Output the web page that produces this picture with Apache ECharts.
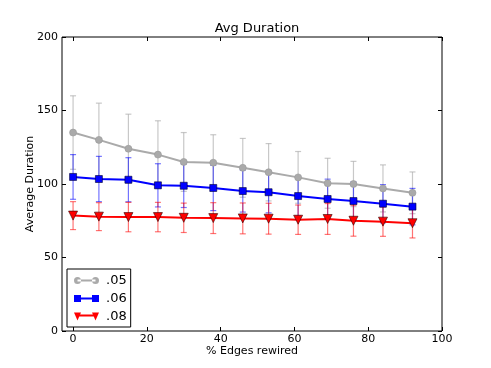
<!DOCTYPE html>
<html>
<head>
<meta charset="utf-8">
<script src="https://cdn.jsdelivr.net/npm/echarts@6/dist/echarts.min.js"></script>
<style>
  html, body { margin: 0; padding: 0; background: #fff; }
  #chart { width: 491px; height: 368px; }
</style>
</head>
<body>
<div id="chart"></div>
<script>
// % edges rewired
const xs = [0, 7, 15, 23, 30, 38, 46, 53, 61, 69, 76, 84, 92]

// mean durations
const avg05 = [135, 130, 124, 120, 115, 114.5, 111, 108, 104.5, 100.5, 100, 97, 94]
const avg06 = [104.8, 103.4, 102.9, 99.1, 98.8, 97.3, 95.2, 94.4, 91.8, 89.8, 88.4, 86.6, 84.6]
const avg08 = [78.5, 77.8, 77.5, 77.5, 77, 76.8, 76.6, 76.4, 75.7, 76.2, 75, 74.4, 73.3]

// error bar half-heights
const err05 = [25, 25, 23.5, 23, 20, 19, 20, 19.5, 17.6, 17, 15.4, 16, 14.2]
const err06 = [15.2, 15.4, 15, 14.7, 14.8, 15.4, 14.3, 14, 13.5, 13.5, 13, 13, 12.4]
const err08 = [9.5, 9.5, 10, 10, 10, 10.5, 10.5, 10.5, 10, 10.5, 10.5, 10, 10]

const names = ['.05', '.06', '.08']
const xTicks = [0, 20, 40, 60, 80, 100]
const yTicks = [0, 50, 100, 150, 200]

const font = 'DejaVu Sans'

// legend samples: marker - line - marker, like matplotlib
const legendIcons = [
  'path://M0,4A3.5,3.5 0 1 0 7,4A3.5,3.5 0 1 0 0,4Z M18,4A3.5,3.5 0 1 0 25,4A3.5,3.5 0 1 0 18,4Z M3.5,3L21.5,3L21.5,5L3.5,5Z',
  'path://M0,0.5h7v7h-7Z M18,0.5h7v7h-7Z M3.5,3h18v2h-18Z',
  'path://M0,0h7l-3.5,8Z M18,0h7l-3.5,8Z M3.5,2h18v2h-18Z'
]

function lineData(vals) {
  return xs.map((x, i) => [x, vals[i]])
}

function errData(vals, errs) {
  return xs.map((x, i) => [x, vals[i] - errs[i], vals[i] + errs[i]])
}

// draw one vertical error bar with caps
function renderBar(params, api) {
  let lo = api.coord([api.value(0), api.value(1)])
  let hi = api.coord([api.value(0), api.value(2)])
  let cap = 3
  let style = { stroke: api.visual('color'), lineWidth: 1.2 }
  return {
    type: 'group',
    children: [
      { type: 'line', shape: { x1: lo[0], y1: lo[1], x2: hi[0], y2: hi[1] }, style },
      { type: 'line', shape: { x1: lo[0] - cap, y1: lo[1], x2: lo[0] + cap, y2: lo[1] }, style },
      { type: 'line', shape: { x1: hi[0] - cap, y1: hi[1], x2: hi[0] + cap, y2: hi[1] }, style }
    ]
  }
}

function errSeries(vals, errs, color) {
  return {
    type: 'custom',
    name: 'err',
    renderItem: renderBar,
    encode: { x: 0, y: [1, 2] },
    itemStyle: { color: color },
    data: errData(vals, errs),
    silent: true
  }
}

function lineSeries(name, vals, color, symbol, size, edge) {
  return {
    type: 'line',
    name: name,
    data: lineData(vals),
    symbol: symbol,
    symbolSize: size,
    showAllSymbol: true,
    animation: false,
    lineStyle: { color: color, width: 2 },
    itemStyle: { color: color, borderColor: edge, borderWidth: 0.6 }
  }
}

// matplotlib style ticks pointing into the plot
function ticks(values) {
  return { show: true, inside: true, length: 4, customValues: values, lineStyle: { color: '#000', width: 1 } }
}

const noLine = { show: false, onZero: false }

let chart = echarts.init(document.getElementById('chart'), null, { renderer: 'canvas' })

let option = {
  animation: false,
  title: {
    text: 'Avg Duration',
    left: 252,
    textAlign: 'center',
    top: 17,
    textStyle: { fontFamily: font, fontSize: 13, fontWeight: 'normal', color: '#000' }
  },
  grid: {
    left: 62, right: 49, top: 37, bottom: 37,
    show: true, borderColor: '#000', borderWidth: 1, backgroundColor: '#fff'
  },
  legend: {
    data: names.map((n, i) => ({ name: n, icon: legendIcons[i] })),
    orient: 'vertical',
    left: 67,
    top: 269,
    padding: [5, 4, 4, 7],
    itemGap: 5,
    itemWidth: 25,
    itemHeight: 8,
    itemStyle: { borderWidth: 0 },
    borderColor: '#000',
    borderWidth: 1,
    backgroundColor: '#fff',
    textStyle: { fontFamily: font, fontSize: 13, color: '#000', padding: [0, 0, 0, 2] }
  },
  xAxis: [
    {
      type: 'value', min: -3, max: 100,
      name: '% Edges rewired', nameLocation: 'middle', nameGap: 15, nameMoveOverlap: false,
      nameTextStyle: { fontFamily: font, fontSize: 11, color: '#000' },
      axisLine: noLine,
      splitLine: { show: false },
      axisTick: ticks(xTicks),
      axisLabel: { customValues: xTicks, fontFamily: font, fontSize: 11, color: '#000', margin: 3 }
    },
    {
      type: 'value', min: -3, max: 100, position: 'top',
      axisLine: noLine,
      splitLine: { show: false },
      axisTick: ticks(xTicks),
      axisLabel: { show: false }
    }
  ],
  yAxis: [
    {
      type: 'value', min: 0, max: 200,
      name: 'Average Duration', nameLocation: 'middle', nameGap: 26, nameMoveOverlap: false,
      nameTextStyle: { fontFamily: font, fontSize: 11, color: '#000' },
      axisLine: noLine,
      splitLine: { show: false },
      axisTick: ticks(yTicks),
      axisLabel: { customValues: yTicks, fontFamily: font, fontSize: 11, color: '#000', margin: 4 }
    },
    {
      type: 'value', min: 0, max: 200, position: 'right',
      axisLine: noLine,
      splitLine: { show: false },
      axisTick: ticks(yTicks),
      axisLabel: { show: false }
    }
  ],
  series: [
    errSeries(avg05, err05, 'rgba(170,170,170,0.65)'),
    lineSeries(names[0], avg05, '#aaaaaa', 'circle', 7, '#999999'),
    errSeries(avg06, err06, 'rgba(0,0,255,0.55)'),
    lineSeries(names[1], avg06, '#0000ff', 'rect', 7, '#000033'),
    errSeries(avg08, err08, 'rgba(255,0,0,0.55)'),
    lineSeries(names[2], avg08, '#ff0000', 'path://M0,0 L10,0 L5,9 Z', 9, '#330000')
  ]
}

chart.setOption(option)
</script>
</body>
</html>
